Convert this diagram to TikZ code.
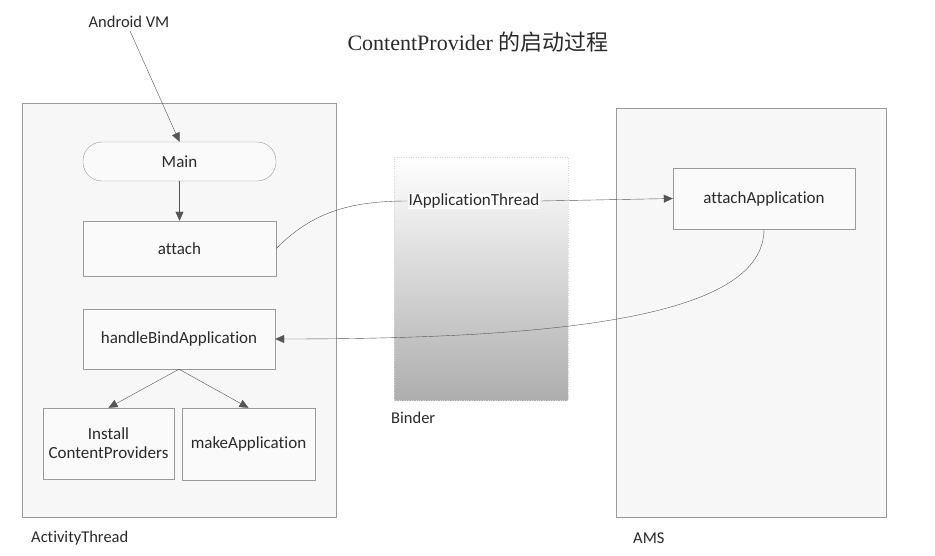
\documentclass[tikz,border=0pt]{standalone}
\usepackage{fontspec}
\setmainfont{Carlito}[Ligatures={NoCommon,NoContextual}]
\newfontfamily\titlefont{Liberation Serif}
\newfontfamily\cjk{Noto Sans CJK SC}
\usetikzlibrary{arrows.meta}
\definecolor{edgegray}{HTML}{9A9A9A}
\definecolor{linegray}{HTML}{555555}
\definecolor{txtgray}{HTML}{2A2A2A}
\tikzset{
  panel/.style={draw=edgegray, fill=black!3, inner sep=0pt},
  func/.style={draw=edgegray, fill=black!2, inner sep=2pt, align=center,
    text=txtgray, font=\fontsize{17}{19}\selectfont},
  tag/.style={inner sep=1pt, text=txtgray, font=\fontsize{16.5}{19}\selectfont},
  arr/.style={draw=linegray, -{Triangle[length=9pt,width=8pt]}},
  wire/.style={draw=linegray}
}
\begin{document}
\begin{tikzpicture}[x=1pt, y=-1pt]
\useasboundingbox[fill=white] (0,0) rectangle (935,556);
% frames
\node[panel, minimum width=314, minimum height=414] (actthread) at (179,310) {};
\node[panel, minimum width=270, minimum height=409] (ams) at (751,312.5) {};
\node[draw=black!15, dotted, top color=white, bottom color=black!32, inner sep=0pt,
  minimum width=174, minimum height=243] (binder) at (481,278.5) {};
% title and captions
\node[text=txtgray, font=\fontsize{22}{26}\selectfont] (title) at (478,42)
  {\titlefont ContentProvider {\cjk 的启动过程}};
\node[tag] (vm) at (129,22) {Android VM};
\node[tag, anchor=west] (actlabel) at (30,538) {ActivityThread};
\node[tag, anchor=west] (amslabel) at (632,538) {AMS};
\node[tag, anchor=west] (binderlabel) at (390,418) {Binder};
% ActivityThread
\node[func, rounded corners=19pt, minimum width=193, minimum height=39] (main) at (179.5,161.5) {Main};
\node[func, minimum width=193, minimum height=55] (attach) at (179.5,248.5) {attach};
\node[func, minimum width=192, minimum height=60] (handle) at (179,339) {handleBindApplication};
\node[func, minimum width=131, minimum height=71] (install) at (108.5,443.5) {Install\\ContentProviders};
\node[func, minimum width=133, minimum height=72] (makeapp) at (248.5,444) {makeApplication};
% AMS
\node[func, minimum width=182, minimum height=61] (attachapp) at (764,198.5) {attachApplication};
% Binder
\node[func, draw=none, fill=white, inner sep=1pt] (ithread) at (474,201) {IApplicationThread};
% connectors
\draw[arr] (vm.south) ++(1,2) coordinate (vmfoot) (vmfoot) -- (main.north);
\draw[arr] (main) -- (attach);
\draw[arr] (handle.south) -- (install.north);
\draw[arr] (handle.south) -- (makeapp.north);
\draw[wire] (attach.east) .. controls +(35,-35) and +(-60,0) .. (ithread.west);
\draw[arr] (ithread.east) -- (attachapp.west);
\draw[arr] (attachapp.south) .. controls +(0,85) and +(300,0) .. (handle.east);
\end{tikzpicture}
\end{document}
